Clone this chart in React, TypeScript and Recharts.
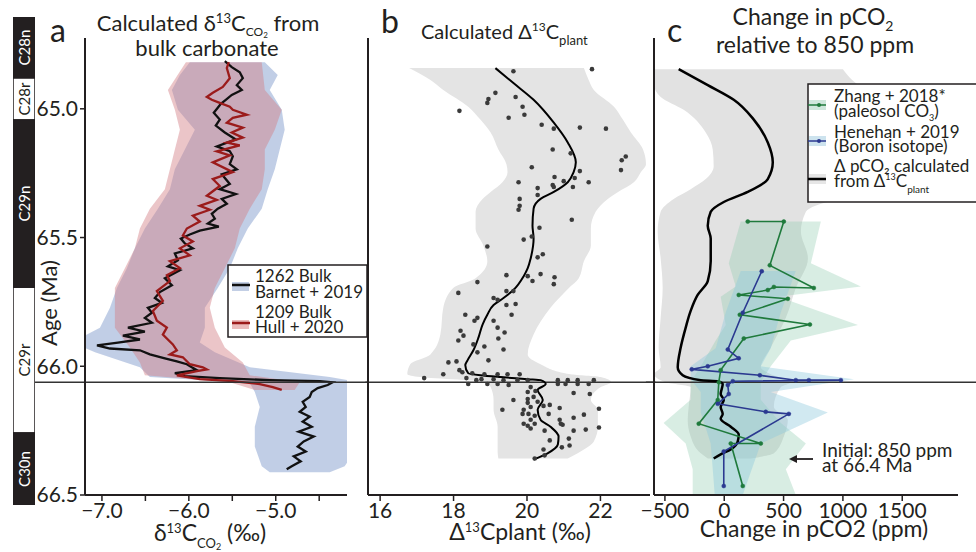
import React from 'react';
import { ComposedChart, BarChart, Bar, Line, Area, Scatter, XAxis, YAxis, ReferenceLine } from 'recharts';

const FONT = 'Lato, "Open Sans", sans-serif';
const INK = '#231f20';

// shared age axis (Ma), increasing downwards
const AGE_DOMAIN: [number, number] = [64.725, 66.5];
const AGE_TICKS = [65.0, 65.5, 66.0, 66.5];
const KPG_AGE = 66.062;

// magnetostratigraphy column
const CHRON_NAMES = ['C28n', 'C28r', 'C29n', 'C29r', 'C30n'];
const CHRON_TOP = [64.646, 64.881, 65.042, 65.685, 66.246];
const CHRON_BASE = [64.881, 65.042, 65.685, 66.246, 66.523];
const CHRON_NORMAL = [true, false, true, false, true];

// panel a: [age, d13C CO2]
const BARNET_1262: [number, number][] = [
  [64.815, -5.586], [64.838, -5.506], [64.858, -5.414], [64.881, -5.379], [64.908, -5.448], [64.927, -5.391],
  [64.946, -5.506], [64.965, -5.575], [64.981, -5.632], [64.996, -5.667], [65.015, -5.713], [65.042, -5.644],
  [65.065, -5.69], [65.092, -5.586], [65.119, -5.46], [65.146, -5.678], [65.165, -5.529], [65.185, -5.494],
  [65.215, -5.529], [65.235, -5.448], [65.254, -5.621], [65.292, -5.529], [65.312, -5.644], [65.331, -5.46],
  [65.35, -5.621], [65.369, -5.563], [65.388, -5.667], [65.408, -5.736], [65.427, -5.701], [65.446, -5.782],
  [65.458, -5.655], [65.473, -5.874], [65.488, -5.989], [65.504, -6.092], [65.523, -6.046], [65.542, -5.954],
  [65.562, -6.161], [65.588, -6.126], [65.612, -6.241], [65.627, -6.103], [65.658, -6.276], [65.685, -6.195],
  [65.712, -6.333], [65.735, -6.391], [65.754, -6.31], [65.773, -6.471], [65.792, -6.425], [65.812, -6.506],
  [65.831, -6.425], [65.85, -6.701], [65.865, -6.506], [65.881, -6.759], [65.896, -6.563], [65.908, -6.816],
  [65.919, -7.057], [65.931, -6.908], [65.938, -6.563], [65.954, -6.448], [65.969, -6.276], [65.981, -6.138],
  [65.992, -6.023], [66.004, -5.966], [66.015, -5.908], [66.027, -6.161], [66.038, -6.046], [66.046, -5.644],
  [66.054, -5.069], [66.058, -4.494], [66.062, -4.345], [66.073, -4.402], [66.085, -4.517], [66.1, -4.586],
  [66.119, -4.609], [66.138, -4.69], [66.158, -4.655], [66.177, -4.724], [66.196, -4.609], [66.215, -4.69],
  [66.235, -4.586], [66.254, -4.736], [66.273, -4.563], [66.292, -4.678], [66.312, -4.747], [66.331, -4.655],
  [66.35, -4.793], [66.369, -4.713], [66.388, -4.816], [66.4, -4.874],
];
const HULL_1209: [number, number][] = [
  [64.819, -5.54], [64.842, -5.563], [64.881, -5.529], [64.915, -5.609], [64.938, -5.724], [64.954, -5.793],
  [64.965, -5.736], [64.977, -5.644], [64.992, -5.529], [65.004, -5.494], [65.023, -5.333], [65.035, -5.494],
  [65.054, -5.563], [65.073, -5.379], [65.092, -5.506], [65.112, -5.379], [65.131, -5.563], [65.142, -5.414],
  [65.165, -5.678], [65.181, -5.529], [65.208, -5.724], [65.246, -5.494], [65.273, -5.724], [65.3, -5.644],
  [65.338, -5.793], [65.354, -5.678], [65.377, -5.874], [65.392, -5.759], [65.415, -5.954], [65.438, -5.874],
  [65.465, -6.023], [65.492, -6.069], [65.515, -5.954], [65.542, -6.103], [65.569, -5.989], [65.592, -6.218],
  [65.619, -6.103], [65.646, -6.253], [65.669, -6.218], [65.708, -6.368], [65.746, -6.299], [65.785, -6.414],
  [65.823, -6.368], [65.85, -6.253], [65.877, -6.299], [65.915, -6.184], [65.938, -6.138], [65.954, -6.218],
  [65.965, -6.069], [65.992, -5.989], [66.004, -5.839], [66.012, -5.793], [66.019, -5.908], [66.035, -6.138],
  [66.05, -5.874], [66.058, -5.494], [66.069, -5.184], [66.081, -5.034], [66.092, -4.931],
];
// [age, low, high]
const BARNET_BAND: [number, number, number][] = [
  [64.819, -5.989, -5.126], [64.869, -6.103, -4.977], [64.927, -6.195, -5.069], [65.004, -6.126, -4.931],
  [65.081, -5.931, -4.897], [65.158, -6.046, -4.954], [65.235, -6.161, -5.011], [65.312, -6.218, -5.092],
  [65.388, -6.356, -5.161], [65.465, -6.506, -5.322], [65.542, -6.621, -5.437], [65.619, -6.713, -5.529],
  [65.696, -6.828, -5.667], [65.773, -6.908, -5.816], [65.85, -7.023, -5.816], [65.908, -7.345, -5.874],
  [65.946, -7.08, -5.701], [66.004, -6.563, -5.299], [66.042, -6.448, -4.379], [66.065, -5.299, -3.966],
  [66.1, -5.241, -4.092], [66.158, -5.184, -4.057], [66.235, -5.241, -4.126], [66.312, -5.241, -4.057],
  [66.388, -5.161, -4.207], [66.412, -5.069, -4.379],
];
const HULL_BAND: [number, number, number][] = [
  [64.819, -6.034, -5.161], [64.927, -6.241, -5.126], [65.004, -6.161, -4.931], [65.081, -6.103, -5.011],
  [65.158, -6.161, -5.126], [65.235, -6.218, -5.126], [65.312, -6.276, -5.161], [65.388, -6.448, -5.299],
  [65.465, -6.563, -5.414], [65.542, -6.621, -5.471], [65.619, -6.736, -5.586], [65.696, -6.851, -5.701],
  [65.773, -6.851, -5.759], [65.85, -6.851, -5.701], [65.927, -6.678, -5.586], [65.985, -6.563, -5.379],
  [66.035, -6.506, -5.299], [66.062, -5.529, -4.724], [66.092, -5.241, -4.782],
];
const D13C_TICKS = [-7, -6.5, -6, -5.5, -5, -4.5];

// panel b: [age, D13C plant]
const PLANT_POINTS: [number, number][] = [
  [64.854, 19.63], [64.846, 21.77], [64.938, 19.14], [64.962, 18.95], [64.977, 18.92], [64.954, 19.69],
  [65.008, 18.16], [64.992, 19.88], [65.023, 19.93], [65.035, 19.5], [65.062, 20.4], [65.077, 20.73],
  [65.073, 21.44], [65.077, 22.15], [65.158, 20.7], [65.173, 21.19], [65.185, 22.69], [65.2, 22.58],
  [65.238, 22.56], [65.227, 20.13], [65.242, 21.44], [65.269, 21.3], [65.265, 20.75], [65.281, 21.0],
  [65.285, 19.77], [65.296, 20.7], [65.304, 20.73], [65.304, 21.25], [65.285, 21.68], [65.308, 20.29],
  [65.335, 20.29], [65.35, 19.8], [65.377, 19.8], [65.392, 19.77], [65.431, 21.22], [65.462, 20.34],
  [65.496, 20.13], [65.508, 19.91], [65.535, 18.92], [65.565, 20.43], [65.577, 20.29], [65.646, 19.44],
  [65.65, 20.02], [65.642, 20.37], [65.654, 20.75], [65.669, 20.15], [65.681, 20.73], [65.673, 18.65],
  [65.715, 18.13], [65.708, 19.44], [65.708, 19.63], [65.735, 19.09], [65.742, 19.2], [65.762, 19.44],
  [65.758, 19.69], [65.8, 18.32], [65.8, 19.58], [65.812, 18.65], [65.823, 18.57], [65.823, 19.09],
  [65.85, 19.2], [65.862, 18.19], [65.881, 18.27], [65.869, 19.39], [65.9, 18.13], [65.892, 19.22],
  [65.915, 18.54], [65.923, 18.84], [65.935, 19.36], [65.946, 18.65], [65.985, 17.86], [65.981, 18.08],
  [65.977, 18.95], [66.031, 17.72], [66.015, 18.16], [66.023, 18.24], [66.046, 17.2], [66.027, 18.51],
  [66.031, 18.84], [66.031, 19.2], [66.031, 19.47], [66.031, 19.8], [66.046, 18.35], [66.054, 18.62],
  [66.05, 18.76], [66.05, 19.09], [66.054, 19.36], [66.054, 19.74], [66.054, 20.02], [66.054, 20.84],
  [66.054, 21.11], [66.054, 21.38], [66.054, 21.82], [66.069, 18.92], [66.069, 19.2], [66.073, 19.5],
  [66.069, 18.4], [66.069, 20.84], [66.069, 21.05], [66.069, 21.38], [66.069, 21.68], [66.081, 20.1],
  [66.096, 20.23], [66.1, 20.02], [66.131, 19.63], [66.127, 20.02], [66.119, 20.18], [66.142, 20.02],
  [66.138, 20.29], [66.104, 21.27], [66.108, 21.71], [66.169, 19.33], [66.169, 19.91], [66.158, 20.1],
  [66.154, 20.45], [66.15, 20.62], [66.162, 20.89], [66.185, 19.88], [66.185, 20.04], [66.192, 20.21],
  [66.185, 20.59], [66.2, 21.27], [66.165, 21.96], [66.208, 20.1], [66.223, 19.91], [66.231, 20.02],
  [66.223, 20.21], [66.208, 20.89], [66.223, 20.92], [66.242, 20.1], [66.25, 20.48], [66.227, 20.97],
  [66.25, 21.27], [66.246, 21.6], [66.238, 21.96], [66.188, 21.55], [66.281, 21.14], [66.315, 20.95],
  [66.308, 21.16], [66.288, 20.62], [66.323, 20.45], [66.346, 20.48], [66.358, 20.21],
];
const PLANT_FIT: [number, number][] = [
  [64.842, 19.14], [64.9, 19.63], [64.965, 20.18], [65.054, 20.73], [65.131, 21.11], [65.208, 21.33],
  [65.246, 21.27], [65.285, 21.11], [65.323, 20.73], [65.35, 20.37], [65.388, 20.18], [65.454, 20.15],
  [65.504, 20.18], [65.581, 20.1], [65.619, 20.02], [65.65, 19.91], [65.704, 19.63], [65.735, 19.36],
  [65.762, 19.09], [65.8, 18.92], [65.838, 18.79], [65.888, 18.68], [65.938, 18.54], [65.977, 18.38],
  [65.996, 18.32], [66.027, 18.4], [66.035, 18.73], [66.042, 19.28], [66.05, 20.02], [66.054, 20.37],
  [66.069, 20.51], [66.092, 20.29], [66.131, 20.43], [66.169, 20.29], [66.208, 20.37], [66.235, 20.64],
  [66.273, 20.86], [66.304, 20.84], [66.338, 20.56], [66.362, 20.18],
];
const PLANT_BAND: [number, number, number][] = [
  [64.842, 16.79, 21.55], [64.888, 17.37, 21.68], [64.927, 17.72, 21.82], [64.992, 18.4, 22.37],
  [65.042, 18.73, 22.61], [65.092, 19.01, 22.83], [65.158, 19.22, 23.16], [65.215, 19.44, 23.24],
  [65.246, 19.47, 23.1], [65.285, 19.33, 22.91], [65.323, 19.01, 22.48], [65.35, 18.79, 22.2],
  [65.4, 18.6, 21.87], [65.465, 18.6, 21.74], [65.531, 18.81, 21.74], [65.592, 18.92, 21.55],
  [65.658, 18.6, 21.41], [65.696, 17.99, 21.14], [65.773, 17.72, 20.64], [65.877, 17.64, 20.18],
  [65.954, 17.37, 20.02], [65.992, 16.82, 20.37], [66.031, 16.74, 21.19], [66.042, 17.09, 22.01],
  [66.062, 18.92, 22.29], [66.081, 19.01, 22.01], [66.131, 19.09, 21.74], [66.169, 19.09, 21.93],
  [66.235, 19.2, 21.93], [66.292, 19.2, 21.82], [66.331, 19.2, 21.46], [66.358, 19.22, 21.11],
];
const PLANT_TICKS = [16, 18, 20, 22];

// panel c: [age, change in pCO2 (ppm)]
const PCO2_FIT: [number, number][] = [
  [64.846, -384], [64.908, -139], [64.965, 80], [65.042, 249], [65.131, 367], [65.208, 409],
  [65.273, 367], [65.323, 198], [65.362, -4], [65.4, -114], [65.454, -139], [65.504, -114],
  [65.592, -114], [65.669, -139], [65.723, -224], [65.785, -283], [65.85, -325], [65.927, -367],
  [66.004, -392], [66.035, -350], [66.054, -198], [66.058, -55], [66.069, -13], [66.108, -30],
  [66.131, -4], [66.158, -30], [66.185, -13], [66.204, -30], [66.235, 55], [66.265, 122],
  [66.292, 114], [66.323, 55], [66.342, -30], [66.358, -89],
];
const PCO2_BAND: [number, number, number][] = [
  [64.846, -590, 1000], [64.908, -590, 1135], [64.954, -536, 1321], [65.004, -342, 1489],
  [65.092, -156, 1700], [65.158, -97, 1827], [65.223, -89, 1869], [65.273, -156, 1743],
  [65.312, -283, 1532], [65.35, -426, 983], [65.4, -536, 688], [65.477, -561, 646],
  [65.581, -536, 705], [65.696, -519, 603], [65.812, -536, 519], [65.927, -553, 392],
  [66.004, -536, 308], [66.031, -590, 392], [66.062, -494, 561], [66.081, -283, 477],
  [66.158, -300, 418], [66.208, -308, 536], [66.273, -283, 502], [66.338, -198, 418],
  [66.358, -139, 224],
];
const ZHANG_2018: [number, number][] = [
  [65.438, 198], [65.438, 502], [65.608, 384], [65.696, 755], [65.692, 418], [65.704, 367],
  [65.723, 122], [65.738, 536], [65.8, 131], [65.838, 722], [65.892, 165], [66.015, -30],
  [66.062, -46], [66.131, -55], [66.223, -215], [66.3, 308], [66.3, 55], [66.465, 156],
];
const ZHANG_BAND: [number, number, number][] = [
  [65.438, 139, 814], [65.6, 38, 730], [65.69, 97, 1152], [65.73, -30, 456], [65.84, 13, 1127],
  [65.9, -72, 561], [66.0, -198, 392], [66.06, -283, 308], [66.13, -283, 308], [66.22, -511, 477],
  [66.3, -325, 688], [66.4, -266, 519], [66.5, -266, 603],
];
const HENEHAN_2019: [number, number][] = [
  [65.631, 316], [65.792, 156], [65.935, 30], [65.969, 122], [66.0, -139], [66.012, -274],
  [66.035, 300], [66.054, 603], [66.054, 713], [66.054, 983], [66.058, 72], [66.073, 30],
  [66.108, 38], [66.146, -55], [66.177, 350], [66.185, 544], [66.331, -4], [66.465, -4],
];
const HENEHAN_BAND: [number, number, number][] = [
  [65.63, 139, 603], [65.79, 13, 477], [65.93, -72, 392], [66.0, -283, 308], [66.05, -283, 1093],
  [66.1, -198, 392], [66.18, -198, 873], [66.3, -114, 308], [66.5, -80, 156],
];
const PCO2_TICKS = [-500, 0, 500, 1000, 1500];

const pts = (rows: [number, number][]) => rows.map(([age, v]) => ({ age, v }));
const band = (rows: [number, number, number][]) => rows.map(([age, lo, hi]) => ({ age, r: [lo, hi] }));

const axisLine = { stroke: INK, strokeWidth: 2 };
const tickLine = { stroke: INK, strokeWidth: 1.5 };
const tickText = { fill: INK, fontSize: 21, fontFamily: FONT };
const minus = (s: string) => s.replace('-', '\u2212');

const chronLabel = (name: string, color: string) => (props: any) => {
  const vb = props.viewBox ?? props;
  const cx = Number(vb.x) + Number(vb.width) / 2;
  const cy = Number(vb.y) + Number(vb.height) / 2;
  return (
    <text x={cx} y={cy} transform={`rotate(-90 ${cx} ${cy})`} textAnchor="middle" dominantBaseline="central"
      fill={color} fontSize={15} fontFamily={FONT}>{name}</text>
  );
};

const chronRow: Record<string, any> = { name: 'polarity' };
CHRON_NAMES.forEach((n, i) => { chronRow[n] = [CHRON_TOP[i], CHRON_BASE[i]]; });

const dot = (fill: string) => (p: any) => <circle cx={p.cx} cy={p.cy} r={2.3} fill={fill} />;

const App: React.FC = () => {
  return (
    <div style={{ position: 'absolute', left: 0, top: 0, width: 976, height: 552, background: '#fff', fontFamily: FONT }}>
      {/* polarity column */}
      <div style={{ position: 'absolute', left: 13, top: 17 }}>
        <BarChart width={22} height={488} data={[chronRow]} margin={{ top: 0, right: 0, bottom: 0, left: 0 }}
          barCategoryGap={0} barGap="-100%">
          <XAxis dataKey="name" type="category" hide />
          <YAxis type="number" domain={[CHRON_TOP[0], CHRON_BASE[4]]} reversed hide allowDataOverflow />
          {CHRON_NAMES.map((n, i) => (
            <Bar key={n} dataKey={n} isAnimationActive={false} fill={CHRON_NORMAL[i] ? INK : '#fff'} stroke={INK}
              strokeWidth={1.5} label={chronLabel(n, CHRON_NORMAL[i] ? '#fff' : INK)} />
          ))}
        </BarChart>
      </div>

      {/* panel a */}
      <div style={{ position: 'absolute', left: 0, top: 0 }}>
        <ComposedChart layout="vertical" width={370} height={552} margin={{ top: 38, right: 23, bottom: 0, left: 0 }}>
          <XAxis type="number" domain={[-7.195, -4.18]} ticks={D13C_TICKS} interval={0} allowDataOverflow height={57}
            axisLine={axisLine} tickLine={tickLine} tickSize={6} tick={tickText}
            tickFormatter={(v: number) => (Number.isInteger(v) ? minus(v.toFixed(1)) : '')} />
          <YAxis type="number" dataKey="age" domain={AGE_DOMAIN} ticks={AGE_TICKS} interval={0} allowDataOverflow width={85}
            axisLine={axisLine} tickLine={tickLine} tickSize={5} tick={tickText} tickFormatter={(v: number) => v.toFixed(1)} />
          <Area data={band(BARNET_BAND)} dataKey="r" type="linear" stroke="none" fill="#8ea6d2" fillOpacity={0.55} isAnimationActive={false} />
          <Area data={band(HULL_BAND)} dataKey="r" type="linear" stroke="none" fill="#d27e86" fillOpacity={0.45} isAnimationActive={false} />
          <Line data={pts(BARNET_1262)} dataKey="v" type="linear" stroke="#111" strokeWidth={2.3} dot={false} isAnimationActive={false} />
          <Line data={pts(HULL_1209)} dataKey="v" type="linear" stroke="#9b1b1b" strokeWidth={2.3} dot={false} isAnimationActive={false} />
          <ReferenceLine segment={[{ x: -7.77, y: KPG_AGE }, { x: -3.93, y: KPG_AGE }]} ifOverflow="visible" stroke="#333" strokeWidth={1.5} />
        </ComposedChart>
      </div>

      {/* panel b */}
      <div style={{ position: 'absolute', left: 350, top: 0 }}>
        <ComposedChart layout="vertical" width={310} height={552} margin={{ top: 38, right: 10, bottom: 0, left: 0 }}>
          <XAxis type="number" domain={[15.67, 23.35]} ticks={PLANT_TICKS} interval={0} allowDataOverflow height={57}
            axisLine={axisLine} tickLine={tickLine} tickSize={6} tick={tickText} />
          <YAxis type="number" dataKey="age" domain={AGE_DOMAIN} ticks={AGE_TICKS} interval={0} allowDataOverflow width={18}
            axisLine={axisLine} tickLine={tickLine} tickSize={5} tick={false} />
          <Area data={band(PLANT_BAND)} dataKey="r" type="monotone" stroke="none" fill="#e4e4e4" fillOpacity={1} isAnimationActive={false} />
          <ReferenceLine segment={[{ x: 15.6, y: KPG_AGE }, { x: 23.5, y: KPG_AGE }]} ifOverflow="visible" stroke="#333" strokeWidth={1.5} />
          <Scatter data={pts(PLANT_POINTS)} dataKey="v" shape={dot('#3a3a3a')} isAnimationActive={false} />
          <Line data={pts(PLANT_FIT)} dataKey="v" type="monotone" stroke="#000" strokeWidth={2} dot={false} isAnimationActive={false} />
        </ComposedChart>
      </div>

      {/* panel c */}
      <div style={{ position: 'absolute', left: 636, top: 0 }}>
        <ComposedChart layout="vertical" width={340} height={552} margin={{ top: 38, right: 18, bottom: 0, left: 0 }}>
          <XAxis type="number" domain={[-592, 1970]} ticks={PCO2_TICKS} interval={0} allowDataOverflow height={57}
            axisLine={axisLine} tickLine={tickLine} tickSize={6} tick={tickText}
            tickFormatter={(v: number) => minus(String(v))} />
          <YAxis type="number" dataKey="age" domain={AGE_DOMAIN} ticks={AGE_TICKS} interval={0} allowDataOverflow width={18}
            axisLine={axisLine} tickLine={tickLine} tickSize={5} tick={false} />
          <Area data={band(PCO2_BAND)} dataKey="r" type="monotone" stroke="none" fill="#e2e2e2" fillOpacity={1} isAnimationActive={false} />
          <Area data={band(ZHANG_BAND)} dataKey="r" type="linear" stroke="none" fill="#8fcaae" fillOpacity={0.35} isAnimationActive={false} />
          <Area data={band(HENEHAN_BAND)} dataKey="r" type="linear" stroke="none" fill="#8cc8dc" fillOpacity={0.4} isAnimationActive={false} />
          <ReferenceLine segment={[{ x: -660, y: KPG_AGE }, { x: 2130, y: KPG_AGE }]} ifOverflow="visible" stroke="#333" strokeWidth={1.5} />
          <Line data={pts(PCO2_FIT)} dataKey="v" type="monotone" stroke="#000" strokeWidth={2.5} dot={false} isAnimationActive={false} />
          <Line data={pts(ZHANG_2018)} dataKey="v" type="linear" stroke="#1f7a3c" strokeWidth={1.6}
            dot={{ r: 2, fill: '#1f7a3c', stroke: '#1f7a3c', strokeWidth: 0.5 }} isAnimationActive={false} />
          <Line data={pts(HENEHAN_2019)} dataKey="v" type="linear" stroke="#2b3990" strokeWidth={1.6}
            dot={{ r: 2, fill: '#2b3990', stroke: '#2b3990', strokeWidth: 0.5 }} isAnimationActive={false} />
        </ComposedChart>
      </div>

      {/* titles, axis titles, legends */}
      <svg width={976} height={552} style={{ position: 'absolute', left: 0, top: 0, pointerEvents: 'none' }}
        fontFamily={FONT} fill={INK}>
        <text x={50} y={42} fontSize={32}>a</text>
        <text x={208} y={31} fontSize={22} textAnchor="middle">Calculated δ<tspan dy={-8} fontSize={13}>13</tspan><tspan dy={8}>C</tspan><tspan dy={5} fontSize={12}>CO</tspan><tspan dy={2} fontSize={8}>2</tspan><tspan dy={-7}> from</tspan></text>
        <text x={207} y={56} fontSize={22} textAnchor="middle">bulk carbonate</text>

        <text x={381} y={33} fontSize={32}>b</text>
        <text x={421} y={39} fontSize={20}>Calculated Δ<tspan dy={-8} fontSize={12}>13</tspan><tspan dy={8}>C</tspan><tspan dy={6} fontSize={13}>plant</tspan></text>

        <text x={667} y={42} fontSize={32}>c</text>
        <text x={813} y={25} fontSize={23} textAnchor="middle">Change in pCO<tspan dy={6} fontSize={14}>2</tspan></text>
        <text x={815} y={53} fontSize={23} textAnchor="middle">relative to 850 ppm</text>

        <text transform="translate(57,303) rotate(-90)" fontSize={22} textAnchor="middle">Age (Ma)</text>

        <text x={210} y={541} fontSize={23} textAnchor="middle">δ<tspan dy={-8} fontSize={13}>13</tspan><tspan dy={8}>C</tspan><tspan dy={7} fontSize={13}>CO</tspan><tspan dy={2} fontSize={9}>2</tspan><tspan dy={-9}> (‰)</tspan></text>
        <text x={520} y={540} fontSize={23} textAnchor="middle">Δ<tspan dy={-8} fontSize={13}>13</tspan><tspan dy={8}>Cplant (‰)</tspan></text>
        <text x={814} y={537} fontSize={23} textAnchor="middle">Change in pCO2 (ppm)</text>

        {/* legend a */}
        <rect x={228} y={265} width={139} height={72} fill="#fff" stroke={INK} strokeWidth={1.5} />
        <rect x={232} y={282} width={17} height={9} fill="#c3cfe5" />
        <line x1={232} x2={250} y1={285} y2={285} stroke="#111" strokeWidth={2.5} />
        <text x={255} y={282} fontSize={17}>1262 Bulk</text>
        <text x={255} y={298} fontSize={17}>Barnet + 2019</text>
        <rect x={232} y={320} width={17} height={9} fill="#ebbdbd" />
        <line x1={232} x2={250} y1={323} y2={323} stroke="#9b1b1b" strokeWidth={2.5} />
        <text x={255} y={318} fontSize={17}>1209 Bulk</text>
        <text x={255} y={333} fontSize={17}>Hull + 2020</text>

        {/* legend c */}
        <rect x={808} y={84} width={180} height={118} fill="#fff" stroke={INK} strokeWidth={1.5} />
        <rect x={809} y={100} width={17} height={10} fill="#cfe7dc" />
        <line x1={808} x2={826} y1={105} y2={105} stroke="#1f7a3c" strokeWidth={1.5} />
        <circle cx={819} cy={105} r={2} fill="#1f7a3c" />
        <text x={834} y={102} fontSize={17}>Zhang + 2018*</text>
        <text x={834} y={117} fontSize={17}>(paleosol CO<tspan dy={4} fontSize={9}>3</tspan><tspan dy={-4}>)</tspan></text>
        <rect x={809} y={136} width={17} height={10} fill="#cde3ee" />
        <line x1={808} x2={826} y1={141} y2={141} stroke="#2b3990" strokeWidth={1.5} />
        <circle cx={819} cy={141} r={2} fill="#2b3990" />
        <text x={834} y={138} fontSize={17}>Henehan + 2019</text>
        <text x={834} y={152} fontSize={17}>(Boron isotope)</text>
        <rect x={809} y={174} width={17} height={10} fill="#e6e6e6" />
        <line x1={808} x2={826} y1={179} y2={179} stroke="#000" strokeWidth={2.5} />
        <text x={834} y={172} fontSize={17}>Δ pCO₂ calculated</text>
        <text x={834} y={187} fontSize={17}>from Δ<tspan dy={-7} fontSize={9}>13</tspan><tspan dy={7}>C</tspan><tspan dy={6} fontSize={10}>plant</tspan></text>

        {/* annotation */}
        <line x1={813} x2={793} y1={459} y2={459} stroke={INK} strokeWidth={1.8} />
        <path d="M789,459 L797,455 L797,463 Z" fill={INK} />
        <text x={822} y={457} fontSize={19}>Initial: 850 ppm</text>
        <text x={822} y={472} fontSize={19}>at 66.4 Ma</text>
      </svg>
    </div>
  );
};

export default App;
